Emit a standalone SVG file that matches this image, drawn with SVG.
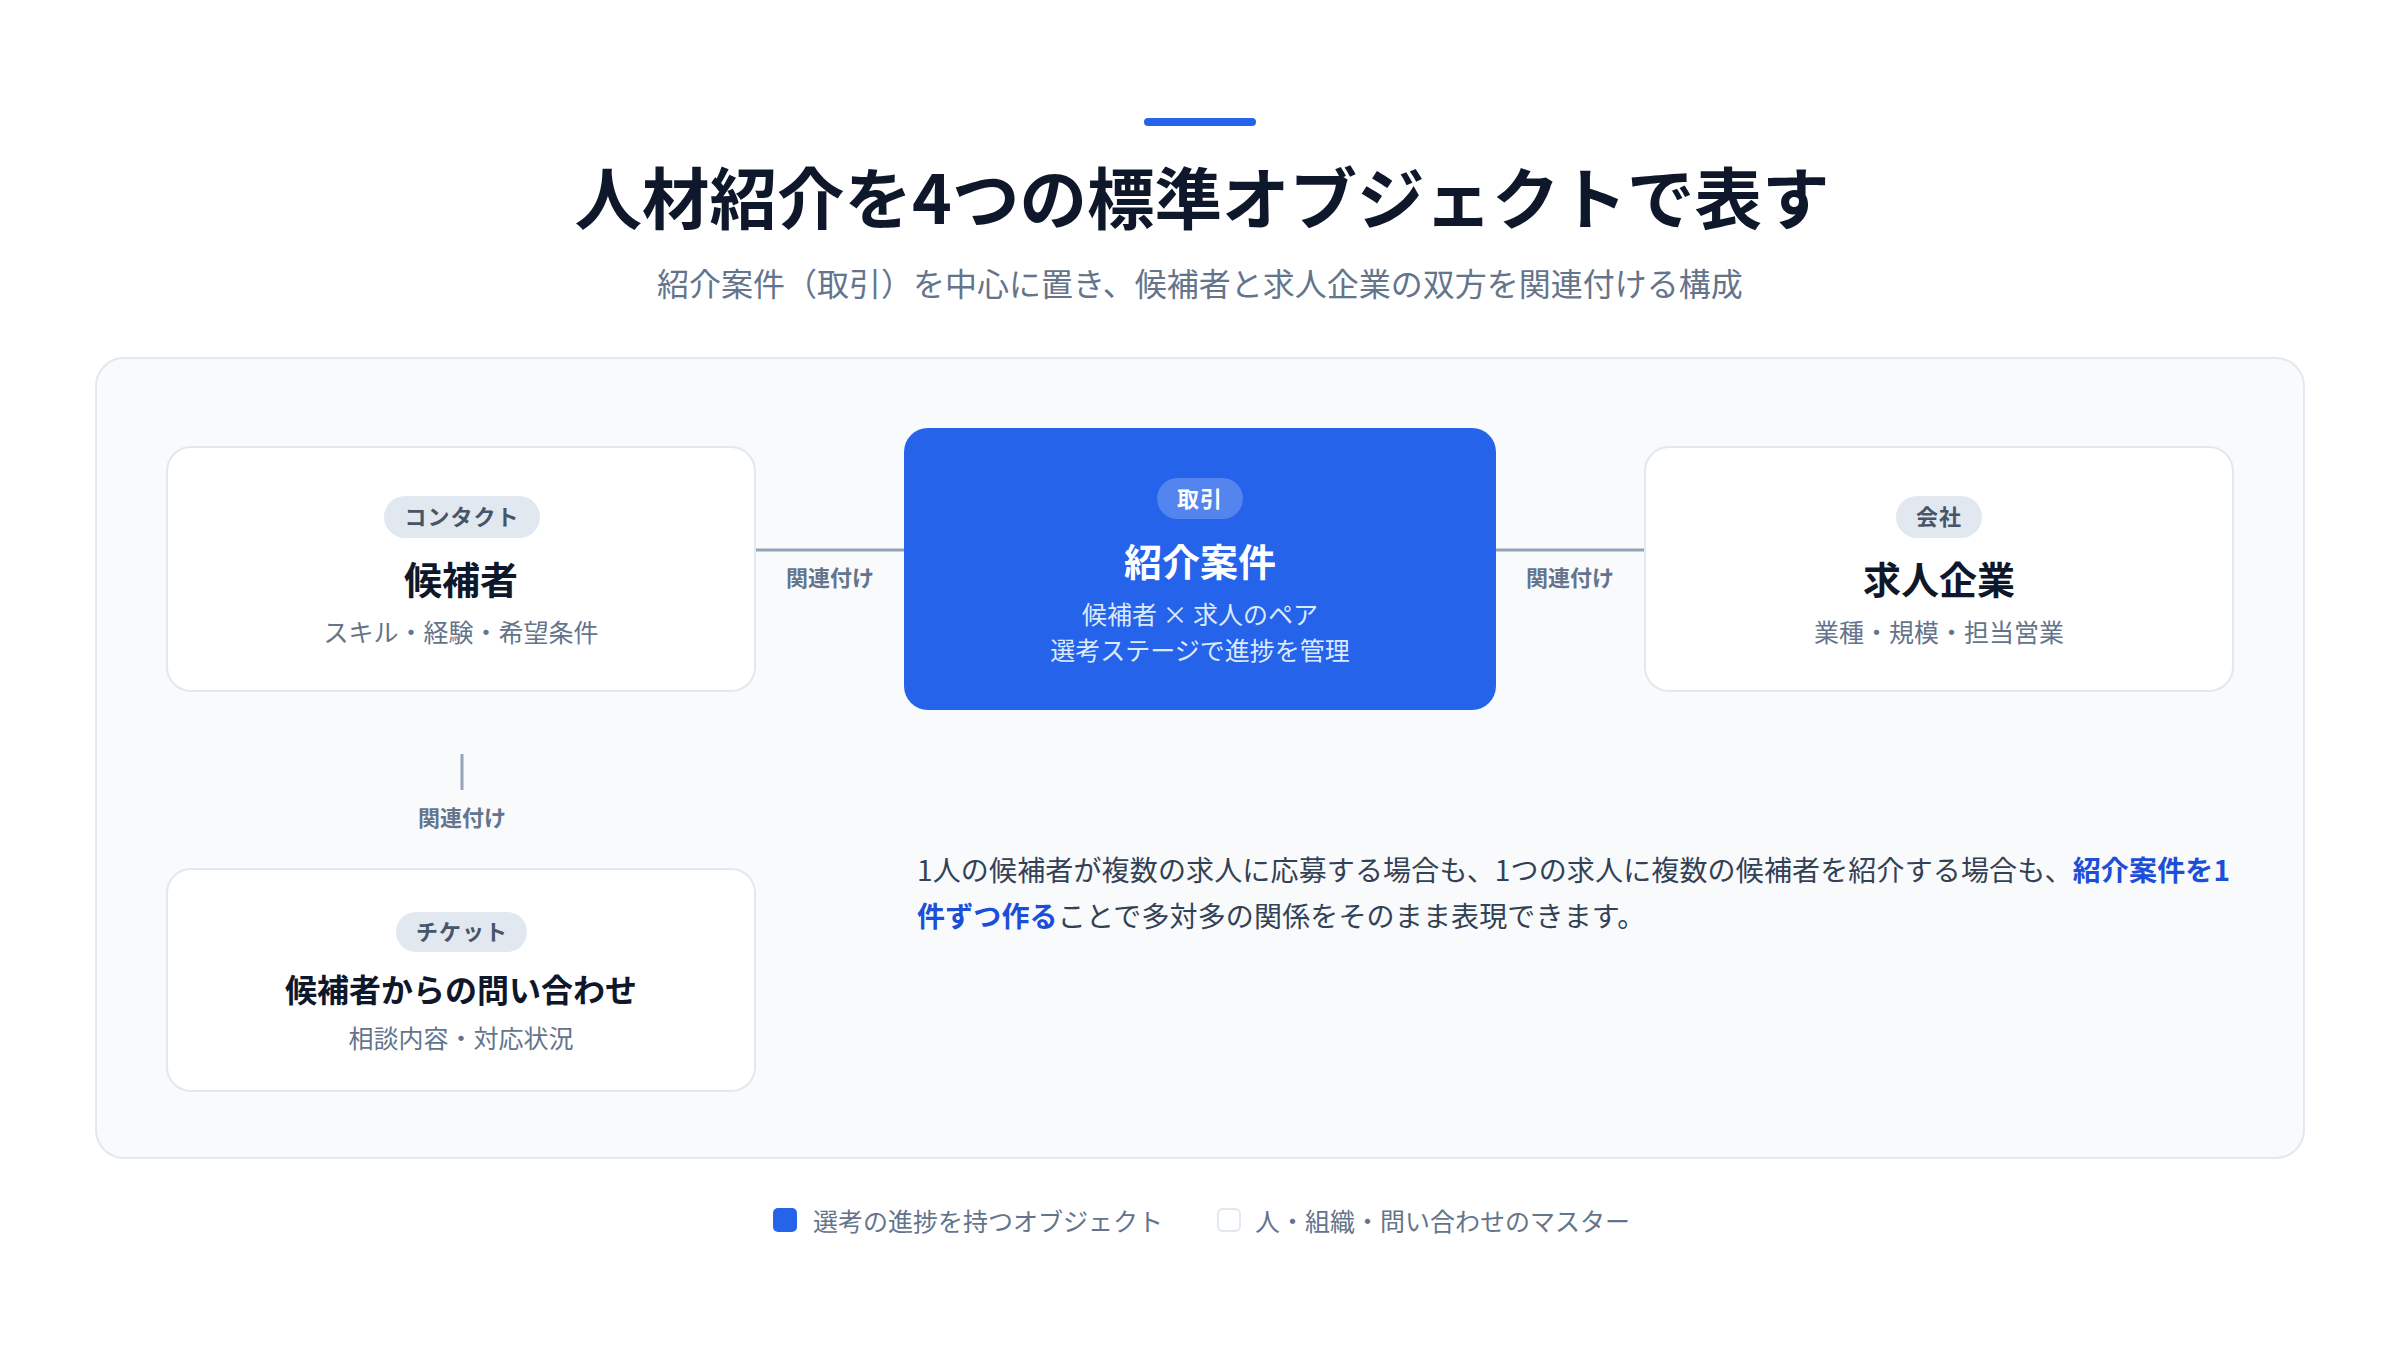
<svg xmlns="http://www.w3.org/2000/svg" width="2400" height="1350" viewBox="0 0 2400 1350">
  <style>
    text { font-family: "Noto Sans CJK JP", "Noto Sans", sans-serif; }
    .title { font-size: 67.5px; font-weight: 700; fill: #0f172a; text-anchor: middle; }
    .subtitle { font-size: 32px; font-weight: 400; fill: #64748b; text-anchor: middle; }
    .card { fill: #ffffff; stroke: #e2e8f0; stroke-width: 2; }
    .pill { fill: #e2e8f0; }
    .pilltext { font-size: 22px; font-weight: 700; fill: #475569; text-anchor: middle; letter-spacing: 1px; }
    .ctitle { font-size: 38px; font-weight: 700; fill: #0f172a; text-anchor: middle; }
    .csub { font-size: 25px; font-weight: 400; fill: #64748b; text-anchor: middle; }
    .conn { stroke: #94a3b8; stroke-width: 3; fill: none; }
    .clabel { font-size: 22px; font-weight: 700; fill: #64748b; text-anchor: middle; }
    .body { font-size: 28px; font-weight: 400; fill: #334155; }
    .em { font-weight: 700; fill: #1d4ed8; }
    .legend { font-size: 25px; font-weight: 400; fill: #64748b; }
  </style>

  <rect x="0" y="0" width="2400" height="1350" fill="#ffffff"/>

  <g id="header">
    <rect x="1144" y="118" width="112" height="8" rx="4" fill="#2563eb"/>
    <text class="title" x="1202" y="224">人材紹介を4つの標準オブジェクトで表す</text>
    <text class="subtitle" x="1200" y="296">紹介案件（取引）を中心に置き、候補者と求人企業の双方を関連付ける構成</text>
  </g>

  <g id="panel">
    <rect x="96" y="358" width="2208" height="800" rx="28" fill="#f8fafc" stroke="#e2e8f0" stroke-width="2"/>
  </g>

  <g id="connectors">
    <line class="conn" x1="756" y1="550" x2="904" y2="550"/>
    <text class="clabel" x="830" y="586">関連付け</text>
    <line class="conn" x1="1496" y1="550" x2="1644" y2="550"/>
    <text class="clabel" x="1570" y="586">関連付け</text>
    <line class="conn" x1="462" y1="754" x2="462" y2="790"/>
    <text class="clabel" x="462" y="826">関連付け</text>
  </g>

  <g id="node-candidate">
    <rect class="card" x="167" y="447" width="588" height="244" rx="24"/>
    <rect class="pill" x="384" y="496" width="156" height="42" rx="21"/>
    <text class="pilltext" x="462" y="525">コンタクト</text>
    <text class="ctitle" x="461" y="594">候補者</text>
    <text class="csub" x="461" y="642">スキル・経験・希望条件</text>
  </g>

  <g id="node-deal">
    <rect x="904" y="428" width="592" height="282" rx="24" fill="#2563eb"/>
    <rect x="1157" y="478" width="86" height="41" rx="20.5" fill="#ffffff" fill-opacity="0.22"/>
    <text class="pilltext" x="1200" y="507" style="fill:#ffffff">取引</text>
    <text class="ctitle" x="1200" y="576" style="fill:#ffffff">紹介案件</text>
    <text class="csub" x="1200" y="624" style="fill:#dbeafe">候補者 × 求人のペア</text>
    <text class="csub" x="1200" y="660" style="fill:#dbeafe">選考ステージで進捗を管理</text>
  </g>

  <g id="node-company">
    <rect class="card" x="1645" y="447" width="588" height="244" rx="24"/>
    <rect class="pill" x="1896" y="496" width="86" height="42" rx="21"/>
    <text class="pilltext" x="1939" y="525">会社</text>
    <text class="ctitle" x="1939" y="594">求人企業</text>
    <text class="csub" x="1939" y="642">業種・規模・担当営業</text>
  </g>

  <g id="node-ticket">
    <rect class="card" x="167" y="869" width="588" height="222" rx="24"/>
    <rect class="pill" x="396" y="912" width="131" height="40" rx="20"/>
    <text class="pilltext" x="462" y="940">チケット</text>
    <text class="ctitle" x="461" y="1002" style="font-size:32px">候補者からの問い合わせ</text>
    <text class="csub" x="461" y="1048">相談内容・対応状況</text>
  </g>

  <g id="description">
    <text class="body" x="917" y="881" letter-spacing="0.15">1人の候補者が複数の求人に応募する場合も、1つの求人に複数の候補者を紹介する場合も、<tspan class="em">紹介案件を1</tspan></text>
    <text class="body" x="917" y="927" letter-spacing="0.15"><tspan class="em">件ずつ作る</tspan>ことで多対多の関係をそのまま表現できます。</text>
  </g>

  <g id="legend">
    <rect x="773" y="1208" width="24" height="24" rx="5" fill="#2563eb"/>
    <text class="legend" x="813" y="1231">選考の進捗を持つオブジェクト</text>
    <rect x="1218" y="1209" width="22" height="22" rx="5" fill="#ffffff" stroke="#e2e8f0" stroke-width="2"/>
    <text class="legend" x="1255" y="1231">人・組織・問い合わせのマスター</text>
  </g>
</svg>
